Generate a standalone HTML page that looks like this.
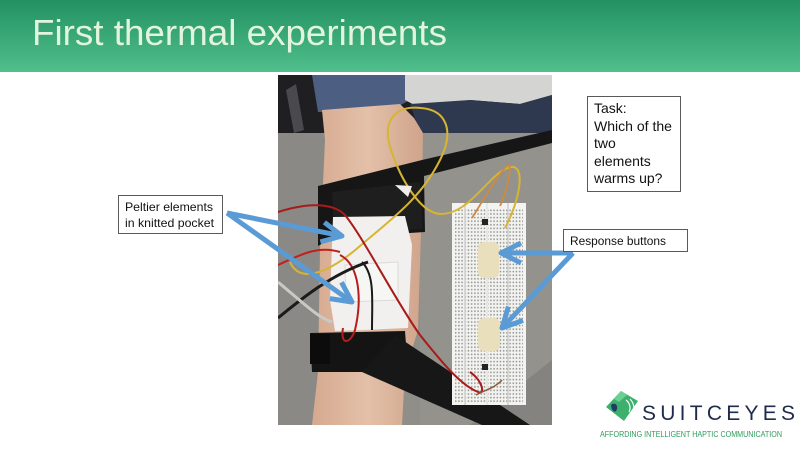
<!DOCTYPE html>
<html><head><meta charset="utf-8"><style>
html,body{margin:0;padding:0;background:#fff;width:800px;height:450px;overflow:hidden}
svg{display:block}
text{font-family:"Liberation Sans",sans-serif}
</style></head><body>
<svg width="800" height="450" viewBox="0 0 800 450" xmlns="http://www.w3.org/2000/svg">
<defs>
<linearGradient id="hg" x1="0" y1="0" x2="0" y2="1">
<stop offset="0" stop-color="#239162"/>
<stop offset="1" stop-color="#50bf8c"/>
</linearGradient>
<pattern id="dots" width="3.2" height="3.6" patternUnits="userSpaceOnUse">
<rect x="0.6" y="0.8" width="1.4" height="1.6" fill="#6e6e6a"/>
</pattern>
<clipPath id="ph"><rect x="278" y="75" width="274" height="350"/></clipPath>
<linearGradient id="skin" x1="0" y1="0" x2="1" y2="0">
<stop offset="0" stop-color="#d5a98f"/>
<stop offset="0.5" stop-color="#e4c0a9"/>
<stop offset="1" stop-color="#cfa48b"/>
</linearGradient>
</defs>
<rect width="800" height="450" fill="#fff"/>
<rect x="0" y="0" width="800" height="72" fill="url(#hg)"/>
<text x="32" y="45" font-size="36" fill="#e2f4dc" textLength="415" lengthAdjust="spacingAndGlyphs">First thermal experiments</text>

<g clip-path="url(#ph)">
<rect x="278" y="75" width="274" height="350" fill="#8f8e89"/>
<rect x="278" y="133" width="50" height="292" fill="#8a8985"/>
<rect x="420" y="133" width="132" height="292" fill="#93928d"/>
<polygon points="470,425 552,360 552,425" fill="#84837f"/>
<!-- top band -->
<rect x="278" y="75" width="274" height="58" fill="#1f1f22"/>
<polygon points="286,90 296,84 304,130 294,133" fill="#4a4a4e"/>
<polygon points="312,75 410,75 410,100 395,108 330,112 318,112" fill="#4c5e82"/>
<polygon points="405,75 552,75 552,95 520,104 470,100 420,108 405,100" fill="#d4d4d2"/>
<polygon points="410,104 470,100 520,104 552,95 552,133 420,133" fill="#2e3950"/>
<!-- arm -->
<polygon points="322,110 400,104 414,118 423,133 422,200 418,330 405,372 402,425 312,425 318,372 320,250 325,140" fill="url(#skin)"/>
<!-- straps -->
<polygon points="318,186 422,160 552,130 552,143 424,176 425,232 332,238 318,246" fill="#161616"/>
<polygon points="332,192 420,182 423,229 334,234" fill="#1e1e1e"/>
<polygon points="310,333 405,331 408,372 312,372" fill="#141414"/>
<polygon points="395,335 530,425 482,425 362,372" fill="#171717"/>
<rect x="310" y="334" width="20" height="30" fill="#0c0c0c"/>
<!-- pocket -->
<polygon points="333,217 405,216 412,245 408,328 335,331 330,300" fill="#f1f0ee"/>
<polygon points="345,265 398,262 398,300 346,302" fill="#f6f6f4" stroke="#dadad8" stroke-width="1"/>
<!-- breadboard -->
<rect x="452" y="203" width="74" height="202" fill="#f3f3f1"/>
<rect x="455" y="208" width="68" height="194" fill="url(#dots)" opacity="0.75"/>
<line x1="465" y1="203" x2="465" y2="405" stroke="#d0d0ce" stroke-width="1.5"/>
<line x1="508" y1="203" x2="508" y2="405" stroke="#d0d0ce" stroke-width="1.5"/>
<line x1="487" y1="203" x2="487" y2="405" stroke="#e6e6e4" stroke-width="2"/>
<rect x="478" y="242" width="21" height="36" rx="6" fill="#eadfbd"/>
<rect x="478" y="318" width="22" height="33" rx="6" fill="#eadfbd"/>
<rect x="482" y="219" width="6" height="6" fill="#222"/>
<rect x="482" y="364" width="6" height="6" fill="#222"/>
<!-- wires -->
<path d="M290,262 C300,285 330,272 360,246 C390,220 420,200 440,160 C455,130 446,110 421,108 C396,105 381,120 391,150 C401,180 421,214 441,214 C471,214 491,170 511,167 C526,165 520,200 505,228" fill="none" stroke="#d6b532" stroke-width="2"/>
<path d="M472,218 C488,192 500,172 507,166 C514,160 506,195 500,206" fill="none" stroke="#cf8a42" stroke-width="1.8"/>
<path d="M278,212 C300,205 330,200 345,215 C365,240 395,300 420,335 C440,360 460,385 478,392 C486,395 482,380 470,372" fill="none" stroke="#a91a1a" stroke-width="2"/>
<path d="M340,255 C360,265 362,300 355,330 C350,345 340,345 343,328" fill="none" stroke="#b81c1c" stroke-width="2"/>
<path d="M278,265 C300,255 318,245 340,252" fill="none" stroke="#c02020" stroke-width="2"/>
<path d="M278,318 C300,300 330,275 368,262" fill="none" stroke="#1a1a1a" stroke-width="3"/>
<path d="M362,262 C375,275 372,300 372,330" fill="none" stroke="#1a1a1a" stroke-width="2"/>
<path d="M278,282 C300,300 318,318 332,322" fill="none" stroke="#c9c9c6" stroke-width="3"/>
<path d="M476,395 C485,390 495,388 502,380" fill="none" stroke="#8a5a3a" stroke-width="1.5"/>
<polygon points="395,185 412,186 408,197" fill="#f0eeea"/>
</g>

<!-- arrows -->
<g stroke="#5b9bd5" stroke-width="5" fill="none" stroke-linejoin="round" stroke-linecap="butt">
<line x1="227" y1="213" x2="340" y2="235.6"/>
<polyline points="320.4,241.9 342,236 324.4,222.3"/>
<line x1="227" y1="213" x2="350" y2="300.6"/>
<polyline points="329.9,298.6 352,302 341.5,282.3"/>
<line x1="573" y1="253" x2="503" y2="253"/>
<polyline points="521,243 501,253 521,263"/>
<line x1="573" y1="253" x2="503.5" y2="326.4"/>
<polyline points="508.4,306.6 502,328 523,320.4"/>
</g>

<!-- label boxes -->
<rect x="118.5" y="195.5" width="104" height="38" fill="#fff" stroke="#5a5a5a" stroke-width="1"/>
<text x="125" y="211" font-size="12" fill="#111" textLength="88" lengthAdjust="spacingAndGlyphs">Peltier elements</text>
<text x="125" y="227" font-size="12" fill="#111" textLength="89" lengthAdjust="spacingAndGlyphs">in knitted pocket</text>

<rect x="587.5" y="96.5" width="93" height="95" fill="#fff" stroke="#5a5a5a" stroke-width="1"/>
<g font-size="14" fill="#111">
<text x="594" y="113">Task:</text>
<text x="594" y="131" textLength="78" lengthAdjust="spacingAndGlyphs">Which of the</text>
<text x="594" y="148">two</text>
<text x="594" y="166">elements</text>
<text x="594" y="183">warms up?</text>
</g>

<rect x="563.5" y="229.5" width="124" height="22" fill="#fff" stroke="#5a5a5a" stroke-width="1"/>
<text x="570" y="245" font-size="11.5" fill="#111" textLength="96" lengthAdjust="spacingAndGlyphs">Response buttons</text>

<!-- logo -->
<g>
<polygon points="606,407 621,391 638,401 624,421" fill="#3db06e"/>
<polygon points="614,399 621,391 627,395 619,402" fill="#6ccf92"/>
<path d="M611,405 C614,402 618,404 617,409 C616,413 612,413 611,405 Z" fill="#243a66"/>
<path d="M626,400 C630,403 631,408 629,412" fill="none" stroke="#fff" stroke-width="1.2"/>
<path d="M630,399 C634,403 635,409 633,414" fill="none" stroke="#fff" stroke-width="1.2"/>
<text x="642" y="420" font-size="21" fill="#1f2b4b" textLength="153" lengthAdjust="spacing">SUITCEYES</text>
<text x="600" y="437" font-size="8" fill="#2f9a5c" textLength="182" lengthAdjust="spacingAndGlyphs">AFFORDING INTELLIGENT HAPTIC COMMUNICATION</text>
</g>
</svg>
</body></html>
